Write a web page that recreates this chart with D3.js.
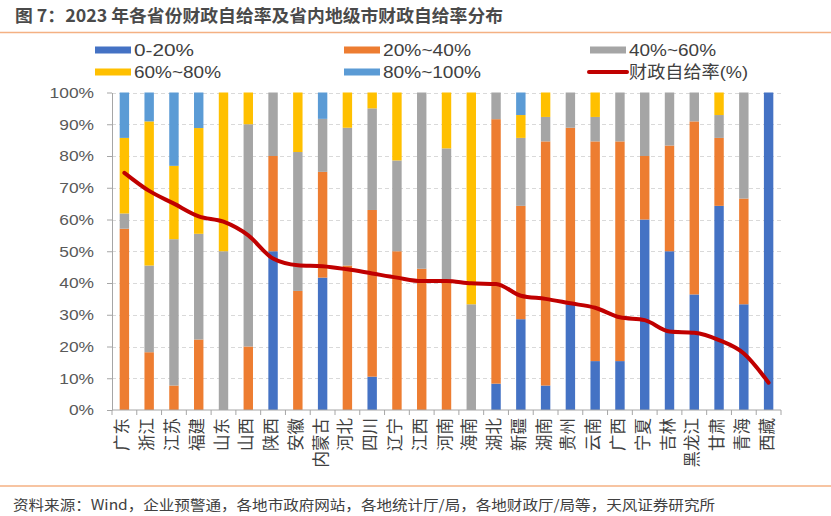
<!DOCTYPE html>
<html><head><meta charset="utf-8">
<script src="https://cdn.jsdelivr.net/npm/d3@7"></script>
<style>body{margin:0;background:#fff;}svg{display:block;}</style>
</head><body>
<svg id="c" width="831" height="516"></svg>
<script>
const categories = ["广东","浙江","江苏","福建","山东","山西","陕西","安徽","内蒙古","河北","四川","辽宁","江西","河南","海南","湖北","新疆","湖南","贵州","云南","广西","宁夏","吉林","黑龙江","甘肃","青海","西藏"];
const s0_20   = [0,0,0,0,0,0,50,0,41.7,0,10.5,0,0,0,0,8.3,28.6,7.7,33.3,15.4,15.4,60,50,36.4,64.3,33.3,100];
const s20_40  = [57.1,18.2,7.7,22.2,0,20,30,37.5,33.3,45.5,52.5,50,44.5,40.8,0,83.3,35.7,76.9,55.6,69.2,69.2,20,33.3,54.5,21.4,33.3,0];
const s40_60  = [4.8,27.3,46.1,33.3,50,70,20,43.75,16.7,43.4,32,28.6,55.5,41.6,33.3,8.4,21.4,7.7,11.1,7.7,15.4,20,16.7,9.1,7.2,33.4,0];
const s60_80  = [23.8,45.4,23.1,33.3,50,10,0,18.75,0,11.1,5,21.4,0,17.6,66.7,0,7.2,7.7,0,7.7,0,0,0,0,7.1,0,0];
const s80_100 = [14.3,9.1,23.1,11.2,0,0,0,0,8.3,0,0,0,0,0,0,0,7.1,0,0,0,0,0,0,0,0,0,0];
const selfRatio = [74.7,69,65,61,59.3,55,47.7,45.6,45.3,44.3,43,41.7,40.6,40.6,39.9,39.7,36,35,33.6,32.2,29.2,28.3,24.7,24.3,22,17.8,8.6];
const seriesNames = ["0-20%","20%~40%","40%~60%","60%~80%","80%~100%"];
const lineName = "财政自给率(%)";
const yTicks = [0,10,20,30,40,50,60,70,80,90,100];
const title = "图 7：2023 年各省份财政自给率及省内地级市财政自给率分布";
const source = "资料来源：Wind，企业预警通，各地市政府网站，各地统计厅/局，各地财政厅/局等，天风证券研究所";

const colors = ["#4472C4","#ED7D31","#A5A5A5","#FFC000","#5B9BD5"];
const lineColor = "#C00000";
const font = "'Liberation Sans','Noto Sans CJK SC',sans-serif";
const cjk = "'Noto Sans CJK SC',sans-serif";
const svg = d3.select("#c");

function fitWidth(sel, w){ sel.attr("textLength", w).attr("lengthAdjust","spacingAndGlyphs"); }

// title and rules
svg.append("text").attr("x",15).attr("y",22).attr("font-family",cjk)
  .attr("font-size",17.5).attr("font-weight",700).attr("fill","#4a4a4a").text(title).call(fitWidth,488);
svg.append("line").attr("x1",0).attr("x2",831).attr("y1",32.5).attr("y2",32.5).attr("stroke","#F4B183").attr("stroke-width",1.5);
svg.append("line").attr("x1",0).attr("x2",831).attr("y1",486).attr("y2",486).attr("stroke","#F4B183").attr("stroke-width",1.5);
svg.append("text").attr("x",13).attr("y",510).attr("font-family",cjk)
  .attr("font-size",14).attr("fill","#404040").text(source).call(fitWidth,702);

// scales
const x = d3.scaleBand().domain(categories).range([112,781]).paddingInner(0.62).paddingOuter(0.31);
const y = d3.scaleLinear().domain([0,100]).range([410,92.5]);

// grid
svg.append("g").selectAll("line").data(yTicks.filter(d=>d>0)).join("line")
  .attr("x1",112).attr("x2",781).attr("y1",d=>Math.round(y(d))+0.5).attr("y2",d=>Math.round(y(d))+0.5)
  .attr("stroke","#D9D9D9").attr("stroke-dasharray","4,3");

// stacked bars
const rows = categories.map((c,i)=>({cat:c, k0:s0_20[i], k1:s20_40[i], k2:s40_60[i], k3:s60_80[i], k4:s80_100[i]}));
const stack = d3.stack().keys(["k0","k1","k2","k3","k4"])(rows);
svg.append("g").selectAll("g").data(stack).join("g").attr("fill",(d,i)=>colors[i])
  .selectAll("rect").data(d=>d).join("rect")
  .attr("x",d=>x(d.data.cat)).attr("width",x.bandwidth())
  .attr("y",d=>y(d[1])).attr("height",d=>Math.max(0,y(d[0])-y(d[1])));

// y axis
const yAxis = svg.append("g").attr("transform","translate(112,0)")
  .call(d3.axisLeft(y).tickValues(yTicks).tickFormat(d=>d+"%").tickSize(5).tickSizeOuter(0));
yAxis.select(".domain").attr("stroke","#A6A6A6");
yAxis.selectAll(".tick line").attr("stroke","#A6A6A6");
yAxis.selectAll("text").attr("font-family",font).attr("font-size",15.5).attr("fill","#595959").attr("x",-18)
  .each(function(){ const w=this.getComputedTextLength(); d3.select(this).call(fitWidth, w*1.12); });

// x axis
const xg = svg.append("g").attr("transform","translate(0,410)");
xg.append("line").attr("x1",112).attr("x2",781).attr("stroke","#A6A6A6");
const step = x.step();
xg.selectAll("line.t").data(d3.range(categories.length+1)).join("line").attr("class","t")
  .attr("x1",i=>112+i*step).attr("x2",i=>112+i*step).attr("y1",0).attr("y2",5).attr("stroke","#A6A6A6");
xg.selectAll("text").data(categories).join("text")
  .attr("transform",d=>`translate(${x(d)+x.bandwidth()/2+4},8) rotate(-90)`)
  .attr("text-anchor","end").attr("font-family",cjk)
  .attr("font-size",16.5).attr("fill","#404040").text(d=>d);

// line
const line = d3.line().x((d,i)=>x(categories[i])+x.bandwidth()/2).y(d=>y(d)).curve(d3.curveMonotoneX);
svg.append("path").datum(selfRatio).attr("d",line).attr("fill","none")
  .attr("stroke",lineColor).attr("stroke-width",4).attr("stroke-linejoin","round").attr("stroke-linecap","round");

// legend
const legItems = seriesNames.map((n,i)=>({name:n,color:colors[i],type:"rect"})).concat([{name:lineName,color:lineColor,type:"line"}]);
const legW = [60,88,87,87,98,119];
const colX = [95,344,590], rowY = [50,72];
const lg = svg.append("g");
legItems.forEach((d,i)=>{
  const cx = colX[i%3], cy = rowY[Math.floor(i/3)];
  if(d.type==="rect") lg.append("rect").attr("x",cx).attr("y",cy-3.5).attr("width",36).attr("height",7).attr("fill",d.color);
  else lg.append("line").attr("x1",cx-1).attr("x2",cx+37).attr("y1",cy).attr("y2",cy).attr("stroke",d.color).attr("stroke-width",4).attr("stroke-linecap","round");
  lg.append("text").attr("x",cx+39).attr("y",cy).attr("dy","0.36em").attr("font-family",font)
    .attr("font-size",17).attr("fill","#404040").text(d.name).call(fitWidth,legW[i]);
});
</script>
</body></html>
